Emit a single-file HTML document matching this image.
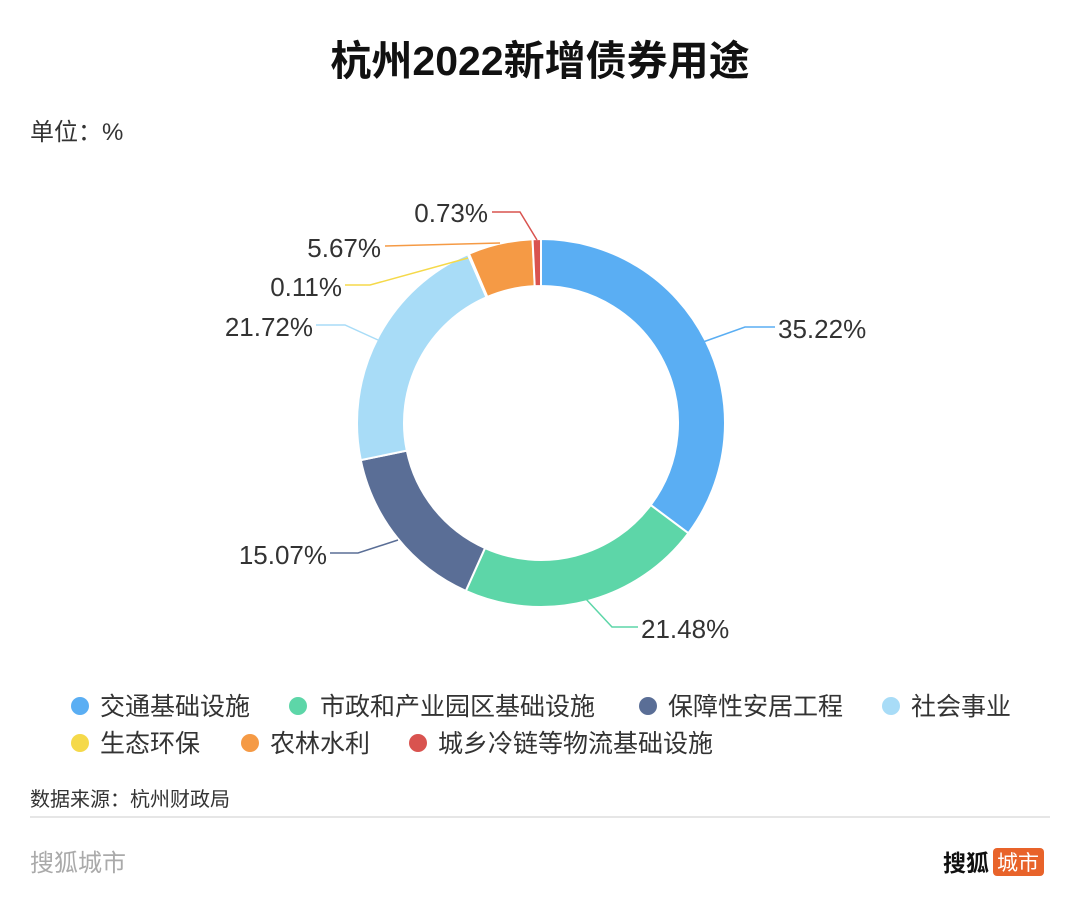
<!DOCTYPE html>
<html><head><meta charset="utf-8"><style>
html,body{margin:0;padding:0;background:#fff;}
body{width:1080px;height:918px;position:relative;overflow:hidden;font-family:"Liberation Sans","Noto Sans CJK SC",sans-serif;}
</style></head><body>
<svg width="1080" height="918" style="position:absolute;left:0;top:0" font-family="Liberation Sans, Noto Sans CJK SC, sans-serif">
<text x="540" y="75" text-anchor="middle" font-size="41" font-weight="bold" fill="#111">杭州2022新增债券用途</text>
<text x="30" y="140" font-size="24" fill="#333">单位：%</text>
<g id="ring"></g>
<g fill="none" stroke-width="1.5">
<polyline points="703,342 745,327 775,327" stroke="#5aaef3"/>
<polyline points="585,598 612,627 638,627" stroke="#5dd6a8"/>
<polyline points="398,540 358,553 330,553" stroke="#5a6e96"/>
<polyline points="378,340 345,325 316,325" stroke="#a8dcf7"/>
<polyline points="468,258 370,285 345,285" stroke="#f5d94a"/>
<polyline points="500,243 385,246" stroke="#f59a45"/>
<polyline points="537,240 520,212 492,212" stroke="#d9534f"/>
</g>
<g font-size="26" fill="#333">
<text x="778" y="338">35.22%</text>
<text x="641" y="638">21.48%</text>
<text x="327" y="564" text-anchor="end">15.07%</text>
<text x="313" y="336" text-anchor="end">21.72%</text>
<text x="342" y="296" text-anchor="end">0.11%</text>
<text x="381" y="257" text-anchor="end">5.67%</text>
<text x="488" y="222" text-anchor="end">0.73%</text>
</g>
<g font-size="25" fill="#333">
<circle cx="80" cy="706" r="9" fill="#5aaef3"/><text x="100" y="715">交通基础设施</text>
<circle cx="298" cy="706" r="9" fill="#5dd6a8"/><text x="320" y="715">市政和产业园区基础设施</text>
<circle cx="648" cy="706" r="9" fill="#5a6e96"/><text x="668" y="715">保障性安居工程</text>
<circle cx="891" cy="706" r="9" fill="#a8dcf7"/><text x="911" y="715">社会事业</text>
<circle cx="80" cy="743" r="9" fill="#f5d94a"/><text x="100" y="752">生态环保</text>
<circle cx="250" cy="743" r="9" fill="#f59a45"/><text x="270" y="752">农林水利</text>
<circle cx="418" cy="743" r="9" fill="#d9534f"/><text x="438" y="752">城乡冷链等物流基础设施</text>
</g>
<text x="30" y="806" font-size="20" fill="#333">数据来源：杭州财政局</text>
<line x1="30" y1="817" x2="1050" y2="817" stroke="#ddd" stroke-width="1.5"/>
<text x="30" y="871" font-size="24" fill="#aaa">搜狐城市</text>
<text x="943" y="871" font-size="23" font-weight="bold" fill="#111">搜狐</text>
<rect x="993" y="848" width="51" height="28" rx="4" fill="#e8632a"/>
<text x="1018" y="870" font-size="21" fill="#fff" text-anchor="middle">城市</text>
</svg>
<script>
var d=[[35.22,"#5aaef3"],[21.48,"#5dd6a8"],[15.07,"#5a6e96"],[21.72,"#a8dcf7"],[0.11,"#f5d94a"],[5.67,"#f59a45"],[0.73,"#d9534f"]];
var tot=0;d.forEach(function(x){tot+=x[0];});
var cx=541,cy=423,R=184,r=137,a=0,s="";
function p(rad,ang){return (cx+rad*Math.sin(ang)).toFixed(2)+","+(cy-rad*Math.cos(ang)).toFixed(2);}
d.forEach(function(x){var b=a+x[0]/tot*2*Math.PI;var l=(b-a)>Math.PI?1:0;
s+='<path d="M'+p(R,a)+' A'+R+','+R+' 0 '+l+' 1 '+p(R,b)+' L'+p(r,b)+' A'+r+','+r+' 0 '+l+' 0 '+p(r,a)+' Z" fill="'+x[1]+'" stroke="#fff" stroke-width="2"/>';a=b;});
document.getElementById("ring").innerHTML=s;
</script>
</body></html>
